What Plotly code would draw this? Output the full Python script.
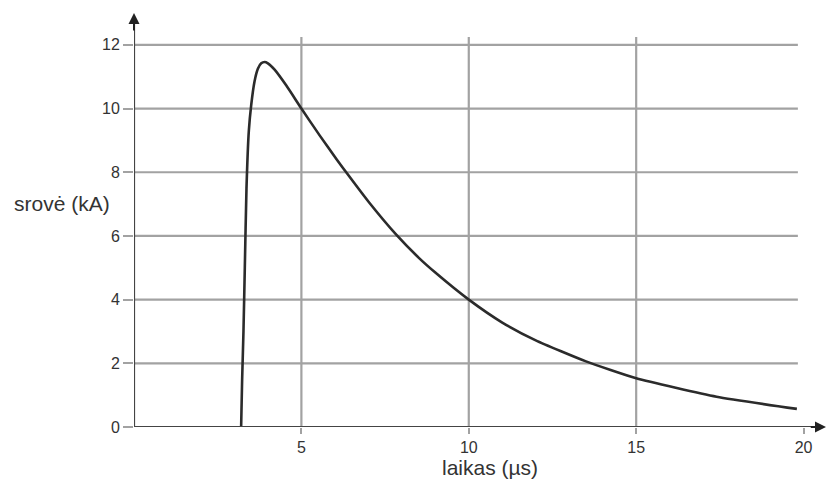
import plotly.graph_objects as go

# Lightning current impulse: time (µs) and current (kA)
laikas_us = [3.20, 3.23, 3.27, 3.31, 3.36, 3.43, 3.50, 3.60, 3.70, 3.80, 3.90, 4.00,
             4.20, 4.55, 5.00, 5.55, 6.05, 6.40, 7.00, 7.84, 8.50, 9.00, 10.00,
             11.00, 12.00, 13.50, 15.00, 17.40, 19.80]
srove_kA = [0.00, 1.50, 3.00, 5.00, 7.50, 9.30, 10.10, 10.85, 11.25, 11.42, 11.46, 11.42,
            11.22, 10.72, 10.00, 9.15, 8.41, 7.91, 7.08, 6.03, 5.32, 4.85, 4.00,
            3.28, 2.72, 2.06, 1.53, 0.95, 0.57]

x_ticks = [5, 10, 15, 20]
y_ticks = [0, 2, 4, 6, 8, 10, 12]
x_grid = [5, 10, 15]

X_MAX = 20.67
Y_MAX = 13.0
GRID_X_END = 19.83
GRID_Y_END = 12.25

TEXT = "#333333"
GRID = "#a2a2a2"
AXIS = "#444444"
FONT = "Liberation Sans, Arial, sans-serif"

fig = go.Figure()
fig.add_trace(go.Scatter(
    x=laikas_us, y=srove_kA, mode="lines",
    line=dict(color="#2b2b2b", width=2.6, shape="spline", smoothing=0.5),
    hoverinfo="skip", showlegend=False,
))

shapes = []
for yv in y_ticks[1:]:
    shapes.append(dict(type="line", xref="x", yref="y", x0=0, x1=GRID_X_END,
                       y0=yv, y1=yv, line=dict(color=GRID, width=2.2), layer="below"))
for xv in x_grid:
    shapes.append(dict(type="line", xref="x", yref="y", x0=xv, x1=xv,
                       y0=0, y1=GRID_Y_END, line=dict(color=GRID, width=2.2), layer="below"))
# axis lines
shapes.append(dict(type="line", xref="x", yref="y", x0=0, x1=X_MAX - 0.25, y0=0, y1=0,
                   line=dict(color=AXIS, width=2.2)))
shapes.append(dict(type="line", xref="x", yref="y", x0=0, x1=0, y0=0, y1=Y_MAX - 0.3,
                   line=dict(color=AXIS, width=2.2)))

annotations = [
    # arrowheads on the axes
    dict(x=X_MAX, y=0, ax=X_MAX - 0.5, ay=0, xref="x", yref="y", axref="x", ayref="y",
         showarrow=True, arrowhead=2, arrowsize=1.1, arrowwidth=2, arrowcolor="#222", text=""),
    dict(x=0, y=Y_MAX, ax=0, ay=Y_MAX - 0.6, xref="x", yref="y", axref="x", ayref="y",
         showarrow=True, arrowhead=2, arrowsize=1.1, arrowwidth=2, arrowcolor="#222", text=""),
    # axis titles
    dict(x=-0.177, y=0.541, xref="paper", yref="paper", xanchor="left", yanchor="middle",
         text="srovė (kA)", showarrow=False, font=dict(family=FONT, size=21, color=TEXT)),
    dict(x=0.5145, y=-0.099, xref="paper", yref="paper", xanchor="center", yanchor="middle",
         text="laikas (µs)", showarrow=False, font=dict(family=FONT, size=21, color=TEXT)),
]

fig.update_layout(
    width=826, height=490,
    margin=dict(l=134, r=0, t=13, b=63),
    paper_bgcolor="white", plot_bgcolor="white",
    shapes=shapes, annotations=annotations,
    xaxis=dict(range=[0, X_MAX], tickvals=x_ticks, ticktext=[str(v) for v in x_ticks],
               showgrid=False, zeroline=False, showline=False,
               ticks="outside", ticklen=6, tickwidth=1.5, tickcolor=GRID,
               tickfont=dict(family=FONT, size=16, color=TEXT), fixedrange=True),
    yaxis=dict(range=[0, Y_MAX], tickvals=y_ticks, ticktext=[str(v) for v in y_ticks],
               showgrid=False, zeroline=False, showline=False,
               ticks="outside", ticklen=10, tickwidth=1.5, tickcolor=GRID,
               tickfont=dict(family=FONT, size=16, color=TEXT), fixedrange=True),
)

fig.write_html("out.html")
